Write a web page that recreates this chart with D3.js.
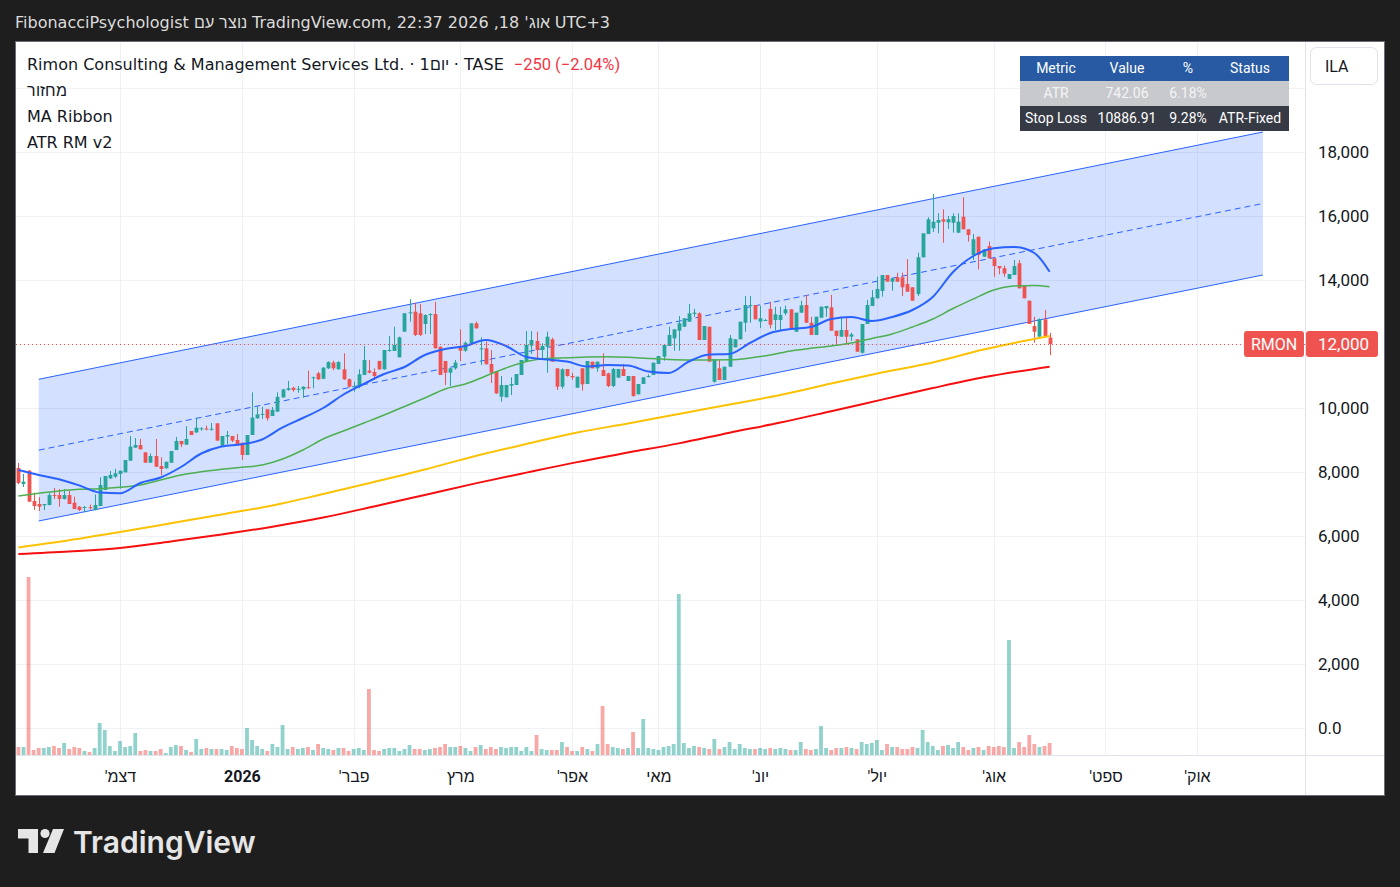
<!DOCTYPE html>
<html><head><meta charset="utf-8">
<script src="https://cdnjs.cloudflare.com/ajax/libs/d3/7.8.5/d3.min.js"></script>
<style>
html,body{margin:0;padding:0;background:#1e1e1e;overflow:hidden}svg{display:block}
@font-face{font-family:"HebLS";src:local("Liberation Sans");unicode-range:U+0590-05FF;}
</style>
</head><body><svg id="c" width="1400" height="887"></svg>
<script>
// ---------------- DATA ----------------
const headerText = "FibonacciPsychologist נוצר עם TradingView.com, אוג' 18, 2026 22:37 UTC+3";
const legendMain = "Rimon Consulting & Management Services Ltd. · 1יום · TASE";
const legendChange = "−250 (−2.04%)";
const legendLines = ["מחזור", "MA Ribbon", "ATR RM v2"];
const symbolName = "RMON";
const lastPriceLabel = "12,000";

const candleOpen = [8125,7625,8040,7094,7000,6960,6970,7280,7280,7156,
7280,7040,6916,6875,6900,6813,6937,7440,7800,7855,
7940,7990,8354,8760,8844,8615,8290,8500,8187,8115,
8290,8687,8970,8854,9280,9240,9340,9360,9335,9520,
8820,9110,9125,9000,8915,8530,9156,9680,9800,9960,
9750,9885,10330,10562,10634,10580,10584,10650,10940,11084,
10915,11240,11420,11210,11209,10897,10670,10666,11031,11166,
11125,11469,11209,11781,11781,11584,12384,12970,13009,12959,
12625,12920,12937,11916,11469,11103,11240,11884,11790,12022,
12647,11850,11866,11375,11134,10353,10334,10697,10719,11031,
11469,11947,12094,11812,11916,12147,11240,10666,11219,11000,
10634,11240,10750,11447,11240,11187,11084,10687,10947,11219,
10844,11000,10428,10750,10990,11031,11375,11603,11937,12178,
12415,12540,12697,12940,12959,12125,12540,10822,11240,10875,
11290,11897,12147,12665,13200,13219,12697,12740,13100,12750,
12750,12960,13084,12384,12978,13219,12665,12281,12822,13115,
13147,12415,12228,12437,12230,12147,11728,12625,13187,13428,
13656,14156,13947,14084,14084,13875,13772,13562,14709,15437,
15615,15790,15897,15800,15790,15478,15978,15584,14781,15353,
14728,15062,14678,14437,14370,14031,14156,14522,13812,13353,
12562,12228,12772,12200];
const candleHigh = [8281,7937,8060,7353,7209,7000,7353,7500,7470,7470,
7420,7230,6937,6937,6980,7300,7833,7875,8031,8100,
8040,8375,9125,9062,9031,8615,8580,9030,8460,8320,
8656,9094,8970,9430,9280,9700,9400,9450,9530,9520,
9125,9280,9125,9187,8915,9156,10490,10040,10040,9960,
10030,10490,10600,10844,10666,10687,10680,11166,10980,11134,
11280,11460,11480,11460,11709,10920,10822,11209,11937,11500,
11240,11480,11812,12250,12540,12230,12959,13400,13290,13250,
12928,12960,13320,11916,11469,11260,11500,12460,12080,12647,
12700,12209,12075,11812,11134,11000,10719,10959,11062,11500,
12406,12406,12384,12022,12384,12200,11240,11240,11219,11100,
10978,11240,11469,11447,11447,11709,11100,11250,11219,11375,
11000,11000,10750,10959,11050,11416,11625,11969,12540,12459,
12875,12803,13250,13100,12990,12562,12540,11522,11500,11290,
12281,12147,12697,13500,13500,13219,13190,12780,13320,13166,
13166,13200,13084,12978,13353,13531,12850,12853,13166,13187,
13531,12415,12853,12853,12350,12147,12625,13375,13687,14103,
14156,14156,14053,14228,14228,14650,13772,14853,15459,15959,
16687,16084,16209,16000,16084,16084,16584,15584,15437,15353,
14959,15200,14678,14437,14450,14187,14625,14625,13812,13353,
12853,12800,13062,12350];
const candleLow = [7620,7531,7072,6813,6781,6813,6960,7156,6916,7140,
7000,6843,6780,6740,6820,6800,6937,7440,7780,7810,
7480,7990,8354,8760,8708,8290,8290,8165,7900,8115,
8290,8687,8780,8854,9156,9215,9290,9300,9290,8980,
8820,8865,8935,8875,8375,8530,9156,9660,9660,9600,
9750,9885,10330,10540,10510,10478,10322,10600,10616,10875,
10900,11220,11180,11200,10880,10640,10510,10616,11031,11084,
10875,11200,11200,11760,11781,11584,12384,12700,12250,12250,
12312,12312,11865,11031,10719,10687,11200,11469,11760,12022,
12480,11344,11366,10780,10440,10197,10334,10406,10719,11031,
11469,11687,11500,11500,11103,11447,10562,10600,10980,10880,
10634,10540,10750,11240,11134,11000,10650,10650,10947,11000,
10844,10353,10428,10750,10950,11031,11375,11478,11937,11790,
11790,12540,12697,12850,12125,12125,11447,10790,10875,10875,
11290,11897,12147,12384,12665,12772,12500,12740,12490,12437,
12437,12900,12459,12384,12978,12665,12281,12281,12822,12850,
12415,11969,12228,11969,12100,11759,11700,12625,13187,13428,
13478,13947,13666,13947,13500,13634,13353,13500,14709,15437,
15500,15459,15165,15600,15478,15478,15584,15200,14625,14334,
14728,14678,14100,14178,14100,14031,14156,13740,13428,12625,
12040,12228,12200,11650];
const candleClose = [7656,7700,7072,6937,6916,7000,7280,7250,7156,7280,
7000,6843,6813,6906,6870,6970,7594,7875,7906,7960,
8040,8375,8792,8844,8708,8290,8500,8165,8094,8320,
8656,8970,8865,9031,9156,9385,9365,9340,9350,8980,
9125,9156,8980,8875,8530,9156,9700,9800,9815,9680,
9940,10350,10580,10616,10562,10600,10666,10634,10960,10897,
11260,11437,11240,11437,10897,10666,10690,11053,11500,11103,
11000,11209,11812,11812,11969,12209,12959,12990,12281,12281,
12906,12937,11865,11031,11103,11240,11420,11790,12040,12647,
12490,11866,11366,11103,10459,10719,10719,10750,11062,11500,
11969,12125,11812,11937,12228,11447,10666,11209,11000,10960,
10978,10740,11469,11240,11447,11000,10687,11219,11219,11000,
11000,10375,10750,10959,11000,11416,11625,11969,12281,12459,
12647,12803,12959,12980,12125,12562,11447,11522,10875,11290,
12178,12147,12697,13219,13219,12772,12803,12750,12600,12928,
12906,13084,12459,12978,13209,12665,12281,12853,13166,13187,
12415,12250,12437,12228,12300,11759,12625,13219,13459,13719,
14156,13947,14053,13947,13772,13634,13353,14709,15459,15897,
15822,15875,15822,15900,16000,15822,15584,15406,15272,14781,
14959,14678,14437,14366,14200,14187,14437,13740,13428,12625,
12384,12772,12250,12000];
const volume = [8,8,178,5,7,7,8,9,7,12,
6,
8,7,4,3,7,32,25,9,4,14,8,9,22,4,5,4,4,6,2,8,10,9,5,3,16,6,7,6,
6,
6,5,9,7,6,27,15,9,6,4,11,8,30,6,8,6,7,8,5,11,7,
6,
5,7,7,4,6,7,5,66,5,4,6,7,7,4,6,10,6,6,5,6,7,8,11,8,8,9,7,4,8,10,6,8,6,8,7,8,8,4,
8,4,20,6,5,5,5,13,8,4,4,8,6,4,11,49,11,8,7,6,7,23,7,36,
7,6,5,8,9,11,161,12,7,9,8,7,6,16,6,8,13,6,11,7,6,6,7,6,7,6,7,6,5,5,13,6,5,
6,29,7,5,7,7,8,7,6,13,11,12,15,5,11,8,8,6,6,8,7,
25,13,9,5,9,10,7,13,8,5,7,8,5,9,8,9,8,115,7,13,8,20,11,8,9,12];

const maIdx = [0,4,8,12,16,20,24,28,32,36,40,44,48,52,56,60,64,68,72,76,80,84,88,92,96,100,104,108,112,116,120,124,128,132,136,140,144,148,152,156,160,164,168,172,176,180,184,188,192,196,200,203];
const maBlue = [8062,7906,7772,7578,7359,7334,7656,7828,8156,8578,8797,8866,9016,9391,9688,10000,10422,10750,11062,11281,11656,11844,11938,12125,11938,11594,11516,11453,11297,11344,11328,11141,11094,11453,11672,11688,12031,12344,12469,12531,12781,12844,12719,12844,13062,13469,14250,14750,14991,15031,14844,14259];
const maGreen = [7250,7334,7406,7459,7478,7522,7594,7750,7906,8009,8084,8147,8219,8406,8688,9031,9281,9531,9781,10047,10312,10594,10750,11000,11250,11453,11547,11569,11594,11603,11584,11547,11516,11500,11500,11506,11562,11656,11781,11866,11938,12031,12172,12312,12531,12781,13109,13406,13688,13812,13828,13791];
const slowIdx = [0,10,20,30,40,50,60,70,80,90,100,110,120,130,140,150,160,170,180,190,203];
const maYellow = [5641,5866,6125,6397,6672,6953,7312,7688,8078,8500,8875,9234,9516,9812,10109,10406,10766,11109,11422,11828,12250];
const maRed = [5438,5516,5625,5831,6047,6291,6575,6925,7284,7644,7981,8309,8606,8894,9228,9544,9900,10262,10622,10959,11291];

const channelIdx = [4, 245];
const channelUpper = [10897, 18625];
const channelMid = [8683, 16391];
const channelLower = [6469, 14156];

const monthTicks = [20,44,66,87,109,126,146,169,192,214,232];
const monthLabels = ["דצמ'","2026","פבר'","מרץ","אפר'","מאי","יונ'","יול'","אוג'","ספט'","אוק'"];
const priceTicks = [0,2000,4000,6000,8000,10000,12000,14000,16000,18000];
const priceLabels = ["0.0","2,000","4,000","6,000","8,000","10,000","12,000","14,000","16,000","18,000"];
const gridPrices = [0,2000,4000,6000,8000,10000,12000,14000,16000,18000,20000];

const tableHeader = ["Metric","Value","%","Status"];
const tableRows = [["ATR","742.06","6.18%",""],["Stop Loss","10886.91","9.28%","ATR-Fixed"]];

// ---------------- CHART ----------------
const FF = "Roboto, 'Liberation Sans', 'DejaVu Sans', sans-serif";
const FT = "HebLS, 'DejaVu Sans', 'Liberation Sans', sans-serif";
const svg = d3.select("#c");
const P = {left:16, right:1305, top:42, bottom:755};
const UP = "#26a69a", DOWN = "#ef5350";

const x = d3.scaleLinear().domain([0, 203]).range([18.4, 1049.6]);
const y = d3.scaleLinear().domain([6000, 18000]).range([536, 152]);
const yv = d3.scaleLinear().domain([0, d3.max(volume)]).range([P.bottom, P.bottom - 178]);

const bars = candleOpen.map((o,i)=>({i, o, h:candleHigh[i], l:candleLow[i], c:candleClose[i], v:volume[i]}));

svg.append("rect").attr("width",1400).attr("height",887).attr("fill","#1e1e1e");
svg.append("text").attr("x",15).attr("y",28).attr("fill","#dcdcdc")
  .style("font-family",FT).style("font-size","16px").attr("direction","ltr").text(headerText);

svg.append("rect").attr("x",15.5).attr("y",41.5).attr("width",1369).attr("height",754)
  .attr("fill","#ffffff").attr("stroke","#6a6d78");

svg.append("defs").append("clipPath").attr("id","clip")
  .append("rect").attr("x",P.left).attr("y",P.top).attr("width",P.right-P.left).attr("height",P.bottom-P.top);

const grid = svg.append("g").attr("stroke","#eff1f4").attr("stroke-width",1);
grid.selectAll(".h").data(gridPrices).join("line")
  .attr("x1",P.left).attr("x2",P.right).attr("y1",d=>Math.round(y(d))+0.5).attr("y2",d=>Math.round(y(d))+0.5);
grid.selectAll(".v").data(monthTicks).join("line")
  .attr("y1",P.top).attr("y2",P.bottom).attr("x1",d=>Math.round(x(d))+0.5).attr("x2",d=>Math.round(x(d))+0.5);

const plot = svg.append("g").attr("clip-path","url(#clip)");

// regression channel
const ch = channelIdx.map((d,i)=>({i:d, u:channelUpper[i], m:channelMid[i], l:channelLower[i]}));
plot.append("path").datum(ch).attr("fill","rgba(41,98,255,0.2)")
  .attr("d", d3.area().x(d=>x(d.i)).y0(d=>y(d.l)).y1(d=>y(d.u)));
plot.append("path").datum(ch).attr("fill","none").attr("stroke","#2962ff").attr("stroke-width",1)
  .attr("d", d3.line().x(d=>x(d.i)).y(d=>y(d.u)));
plot.append("path").datum(ch).attr("fill","none").attr("stroke","#2962ff").attr("stroke-width",1)
  .attr("d", d3.line().x(d=>x(d.i)).y(d=>y(d.l)));
plot.append("path").datum(ch).attr("fill","none").attr("stroke","#2962ff").attr("stroke-width",1)
  .attr("stroke-dasharray","6,4").attr("d", d3.line().x(d=>x(d.i)).y(d=>y(d.m)));

// volume
const bw = 3.8;
plot.selectAll(".vol").data(bars).join("rect")
  .attr("x", d=>x(d.i)-bw/2).attr("width",bw)
  .attr("y", d=>yv(d.v)).attr("height", d=>P.bottom - yv(d.v))
  .attr("fill", d=> d.c>=d.o ? "rgba(38,166,154,0.5)" : "rgba(239,83,80,0.5)");

// candles
const cg = plot.append("g");
cg.selectAll(".wick").data(bars).join("line")
  .attr("x1", d=>Math.round(x(d.i))+0.5).attr("x2", d=>Math.round(x(d.i))+0.5)
  .attr("y1", d=>y(d.h)).attr("y2", d=>y(d.l))
  .attr("stroke", d=> d.c>=d.o ? UP : DOWN).attr("stroke-width",1);
const cbw = 3.8;
cg.selectAll(".body").data(bars).join("rect")
  .attr("x", d=>Math.round(x(d.i))+0.5-cbw/2).attr("width",cbw)
  .attr("y", d=>y(Math.max(d.o,d.c))).attr("height", d=>Math.max(1, Math.abs(y(d.o)-y(d.c))))
  .attr("fill", d=> d.c>=d.o ? UP : DOWN);

// moving averages
const maLine = d3.line().x(d=>x(d[0])).y(d=>y(d[1])).curve(d3.curveMonotoneX);
const mas = [
  {idx:slowIdx, v:maRed, color:"#f50f0f", w:2},
  {idx:slowIdx, v:maYellow, color:"#fcc203", w:2},
  {idx:maIdx, v:maGreen, color:"#4caf50", w:1.5},
  {idx:maIdx, v:maBlue, color:"#2962ff", w:2}
];
mas.forEach(m=>{
  plot.append("path").datum(m.idx.map((d,i)=>[d,m.v[i]]))
    .attr("fill","none").attr("stroke",m.color).attr("stroke-width",m.w)
    .attr("stroke-linejoin","round").attr("d",maLine);
});

// last price line
const last = bars[bars.length-1];
plot.append("line").attr("x1",P.left).attr("x2",P.right)
  .attr("y1",Math.round(y(last.c))+0.5).attr("y2",Math.round(y(last.c))+0.5)
  .attr("stroke",DOWN).attr("stroke-width",1).attr("stroke-dasharray","1,3");

// separators
svg.append("line").attr("x1",P.right+0.5).attr("x2",P.right+0.5).attr("y1",P.top).attr("y2",795)
  .attr("stroke","#e0e3eb");
svg.append("line").attr("x1",P.left).attr("x2",1384).attr("y1",P.bottom+0.5).attr("y2",P.bottom+0.5)
  .attr("stroke","#e0e3eb");

// price axis
const yAxis = d3.axisRight(y).tickValues(priceTicks).tickFormat((d,i)=>priceLabels[i]).tickSize(0).tickPadding(0);
const ya = svg.append("g").attr("transform","translate(1318,0)").call(yAxis);
ya.select(".domain").remove();
ya.selectAll("text").style("font-family",FF).style("font-size","17px").attr("fill","#131722");

// time axis
const xAxis = d3.axisBottom(x).tickValues(monthTicks).tickFormat((d,i)=>monthLabels[i]).tickSize(0).tickPadding(0);
const xa = svg.append("g").attr("transform","translate(0,771)").call(xAxis);
xa.select(".domain").remove();
xa.selectAll("text").style("font-family",FF).style("font-size","16px").attr("fill","#131722")
  .attr("direction","rtl").style("font-weight",(d,i)=> monthLabels[i]==="2026" ? "700" : "400");

// last price label
const ly = y(last.c);
svg.append("rect").attr("x",1244).attr("y",ly-13).attr("width",60).attr("height",26).attr("rx",3).attr("fill",DOWN);
svg.append("rect").attr("x",1306).attr("y",ly-13).attr("width",72).attr("height",26).attr("rx",3).attr("fill",DOWN);
svg.append("text").attr("x",1274).attr("y",ly).attr("dy","0.35em").attr("text-anchor","middle")
  .style("font-family",FF).style("font-size","16px").attr("fill","#fff").text(symbolName);
svg.append("text").attr("x",1318).attr("y",ly).attr("dy","0.35em")
  .style("font-family",FF).style("font-size","17px").attr("fill","#fff").text(lastPriceLabel);

// ILA button
svg.append("rect").attr("x",1310.5).attr("y",47.5).attr("width",67).attr("height",37).attr("rx",6)
  .attr("fill","#fff").attr("stroke","#e0e3eb");
svg.append("text").attr("x",1325).attr("y",66).attr("dy","0.35em")
  .style("font-family",FF).style("font-size","16px").attr("fill","#131722").text("ILA");

// legend
const lg = svg.append("g").style("font-family",FT).style("font-size","16px").attr("fill","#131722");
const mainT = lg.append("text").attr("x",27).attr("y",70).attr("direction","ltr").text(legendMain);
const mw = mainT.node().getComputedTextLength();
lg.append("text").attr("x",27+mw+10).attr("y",70).attr("fill","#f23645")
  .style("font-family",FF).style("font-size","16.5px").text(legendChange);
lg.selectAll(".ll").data(legendLines).join("text").attr("x",27).attr("y",(d,i)=>96+i*26)
  .attr("direction","ltr").text(d=>d);

// table
const tx0 = 1020, tx1 = 1289, rowH = 25, ty0 = 56;
const colX = [1056, 1127, 1188, 1250];
const rowFill = ["#275aa2","#c8c9cd","#363a45"];
const tableData = [tableHeader].concat(tableRows);
const tg = svg.append("g").style("font-family",FF).style("font-size","14px");
tableData.forEach((row,r)=>{
  tg.append("rect").attr("x",tx0).attr("y",ty0+r*rowH).attr("width",tx1-tx0).attr("height",rowH).attr("fill",rowFill[r]);
  row.forEach((cell,c)=>{
    tg.append("text").attr("x",colX[c]).attr("y",ty0+r*rowH+rowH/2).attr("dy","0.35em")
      .attr("text-anchor","middle").attr("fill", r===1 ? "#f4f4f6" : "#ffffff").text(cell);
  });
});

// TradingView logo
const logo = svg.append("g").attr("fill","#e6e6e6");
logo.append("path").attr("d","M18,829 H38 V853 H28.5 V838.5 H18 Z");
logo.append("circle").attr("cx",45).attr("cy",833.5).attr("r",4.6);
logo.append("path").attr("d","M53,829 H64 L54.5,853 H43 Z");
logo.append("text").attr("x",73).attr("y",853).style("font-family","Inter, Roboto, sans-serif")
  .style("font-size","30px").style("font-weight","600").attr("fill","#e6e6e6").text("TradingView");
</script>
</body></html>
